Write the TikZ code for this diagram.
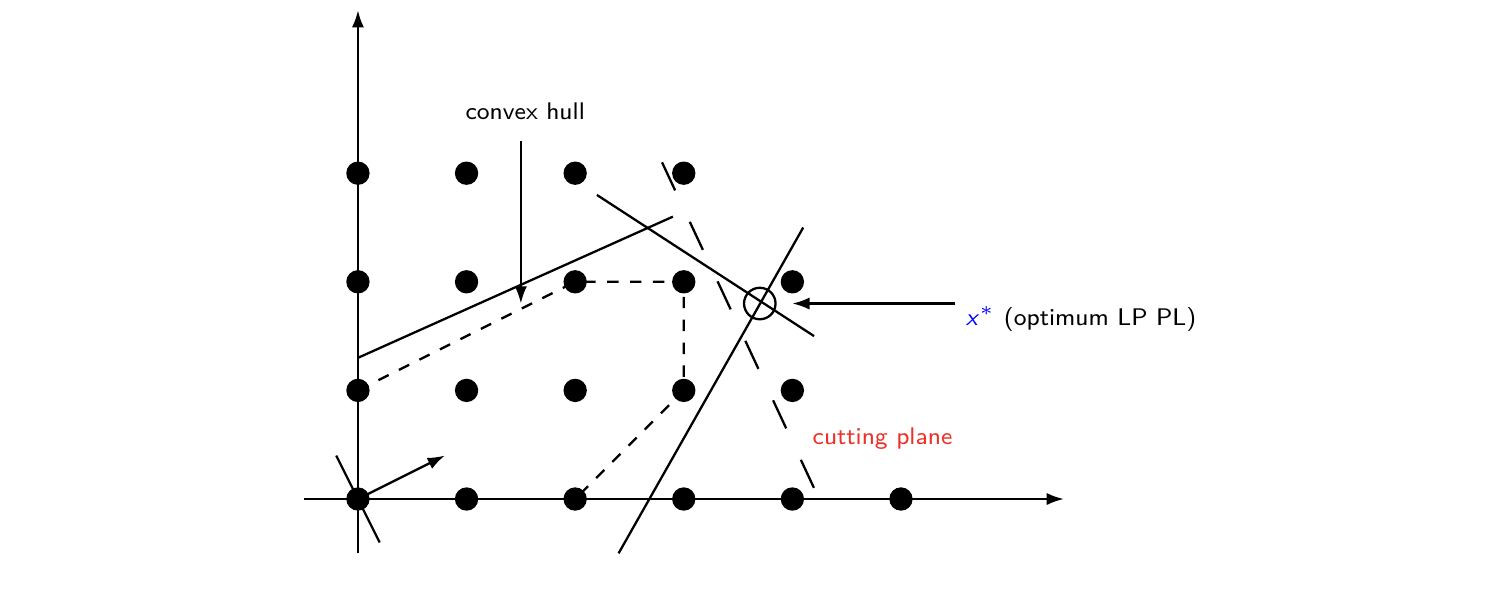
\documentclass[tikz,border=0pt]{standalone}
\usetikzlibrary{arrows.meta}
\begin{document}
\begin{tikzpicture}[
  ln/.style={line width=0.6pt},
  arr/.style={ln,-{Latex[length=4.5pt,width=3.2pt]}},
  hull/.style={ln,dash pattern=on 3pt off 3pt},
  longdash/.style={ln,dash pattern=on 8.1pt off 9.1pt},
  dot/.style={circle,fill=black,inner sep=0pt,minimum size=0.215cm},
  lbl/.style={font=\sffamily\fontsize{6.3}{7.5}\selectfont,inner sep=0pt}
]
\useasboundingbox (-3.296,-0.912) rectangle (10.387,4.595);

% axes
\coordinate (xl) at (-0.5,0);
\coordinate (xr) at (6.5,0);
\coordinate (yb) at (0,-0.5);
\coordinate (yt) at (0,4.5);
\draw[arr] (xl) -- (xr);
\draw[arr] (yb) -- (yt);

% objective level line through origin and direction
\coordinate (o1) at (-0.2,0.4);
\coordinate (o2) at (0.2,-0.4);
\draw[ln] (o1) -- (o2);
\coordinate (org) at (0,0);
\coordinate (dir) at (0.8,0.4);
\draw[arr] (org) -- (dir);

% convex hull (dashed)
\coordinate (h1) at (0,1);
\coordinate (h2) at (2,2);
\coordinate (h3) at (3,2);
\coordinate (h4) at (3,1);
\coordinate (h5) at (2,0);
\draw[hull] (h1) -- (h2) -- (h3) -- (h4) -- (h5);

% constraint lines
\coordinate (a1) at (0,1.3);
\coordinate (a2) at (2.9,2.6);
\draw[ln] (a1) -- (a2);
\coordinate (b1) at (2.2,2.8);
\coordinate (b2) at (4.2,1.5);
\draw[ln] (b1) -- (b2);
\coordinate (c1) at (2.4,-0.5);
\coordinate (c2) at (4.1,2.5);
\draw[ln] (c1) -- (c2);

% objective level line (long dashes)
\coordinate (d1) at (2.8,3.1);
\coordinate (d2) at (4.2,0.1);
\draw[longdash] (d1) -- (d2);

% optimum circle
\node[ln,draw,circle,minimum size=0.29cm,inner sep=0pt] (xs) at (3.7,1.8) {};

% lattice points
\foreach \x in {0,...,5} \node[dot] (p\x-0) at (\x,0) {};
\foreach \x in {0,...,4} \node[dot] (p\x-1) at (\x,1) {};
\foreach \x in {0,...,4} \node[dot] (p\x-2) at (\x,2) {};
\foreach \x in {0,...,3} \node[dot] (p\x-3) at (\x,3) {};

% convex hull label
\node[lbl,anchor=base] (chl) at (1.54,3.49) {convex hull};
\coordinate (chs) at (1.5,3.3);
\coordinate (cht) at (1.5,1.8);
\draw[arr] (chs) -- (cht);

% optimum label
\coordinate (xss) at (5.5,1.8);
\coordinate (xst) at (4.0,1.8);
\draw[arr] (xss) -- (xst);
\node[lbl,anchor=base west] (xsl) at (5.59,1.60) {\textcolor{blue}{\textit{x}$^{*}$} (optimum LP PL)};

% cutting plane label
\definecolor{cutred}{RGB}{235,50,40}
\node[lbl,anchor=base,text=cutred] (cpl) at (4.83,0.50) {cutting plane};
\end{tikzpicture}
\end{document}
